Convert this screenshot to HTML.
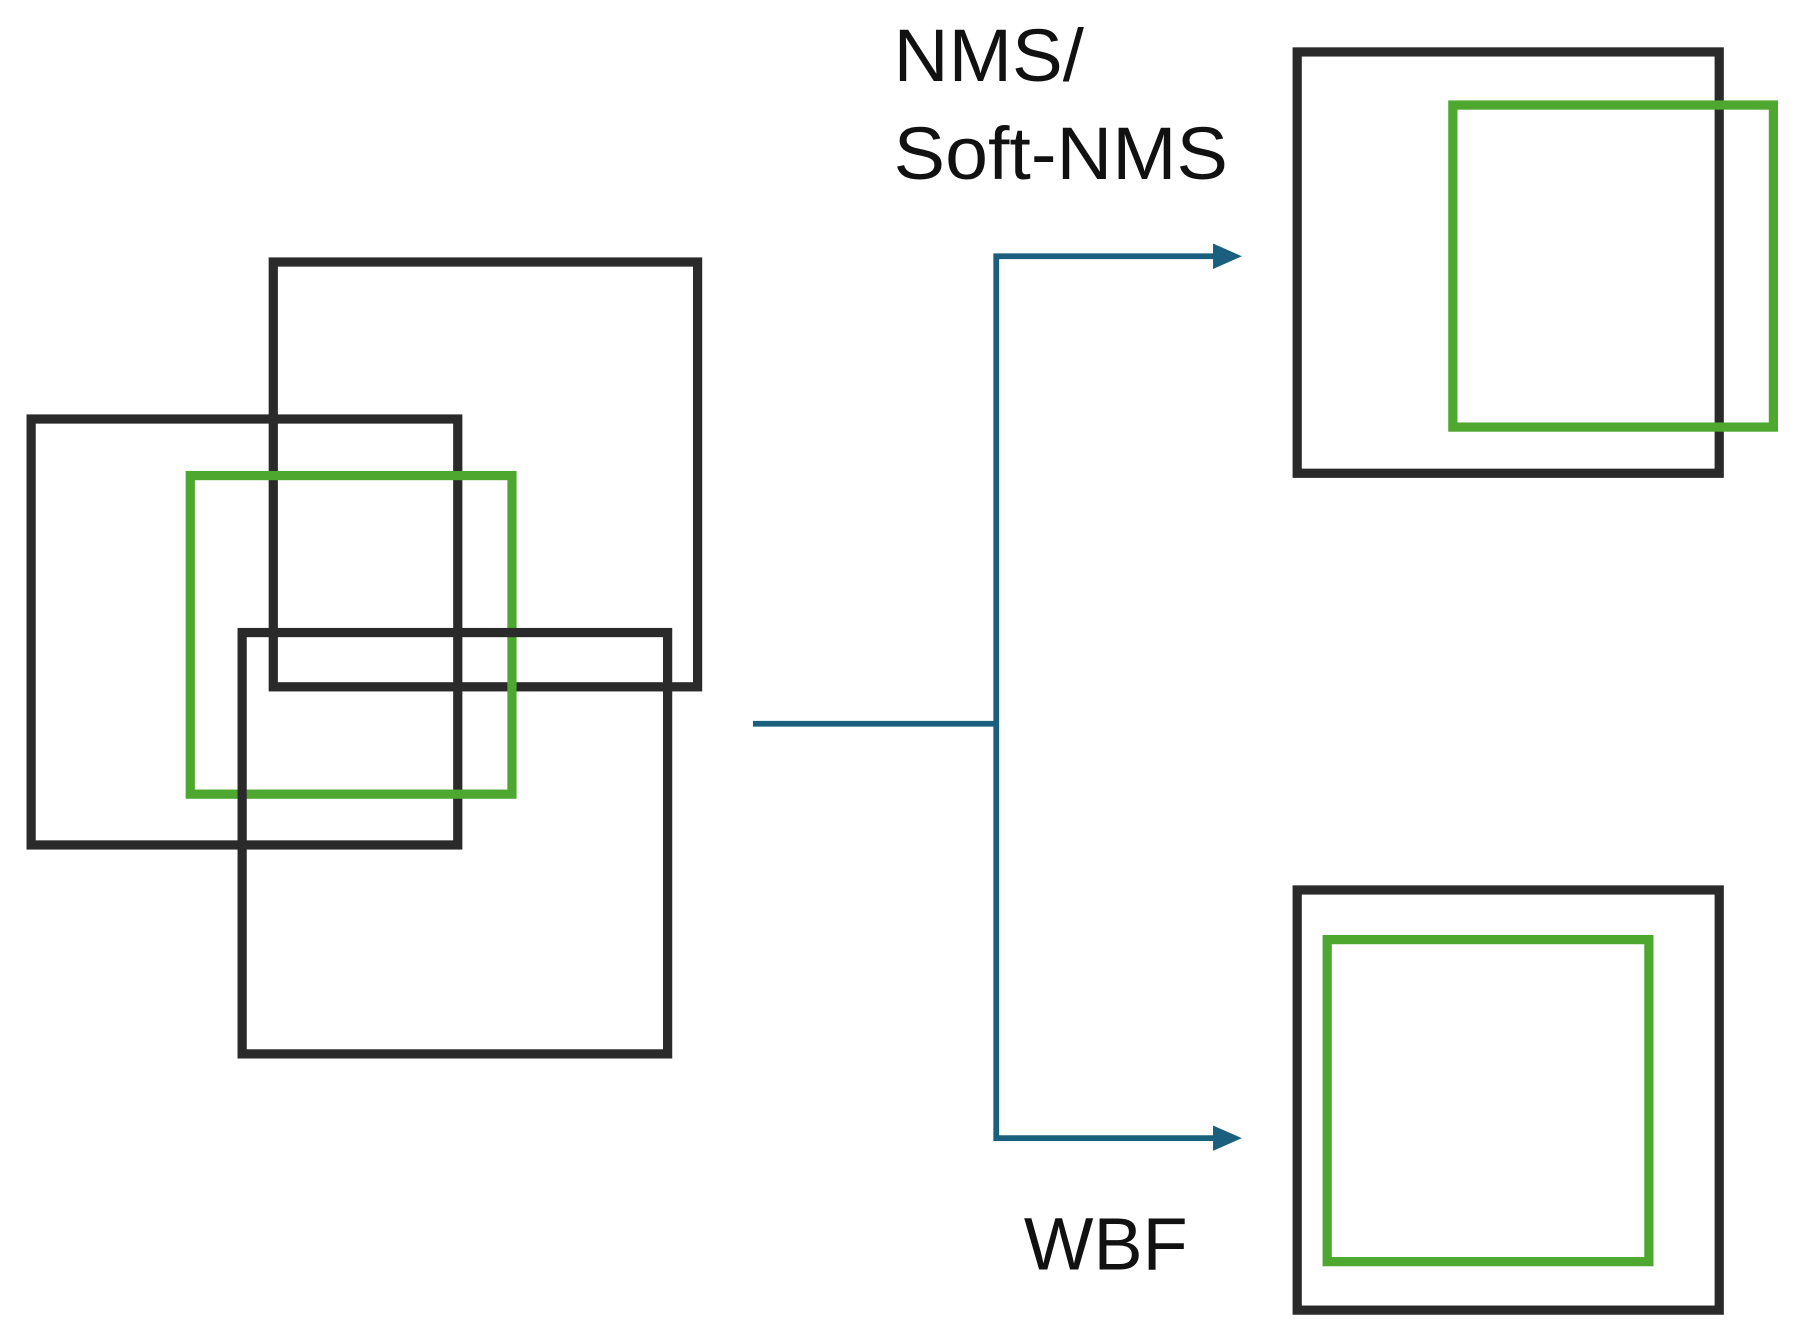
<!DOCTYPE html>
<html><head><meta charset="utf-8"><style>
html,body{margin:0;padding:0;background:#fff;width:1808px;height:1339px;overflow:hidden}
svg{display:block}
</style></head><body>
<svg width="1808" height="1339" viewBox="0 0 1568 1160" preserveAspectRatio="none" xmlns="http://www.w3.org/2000/svg">
<g fill="none" stroke-width="8" stroke-linecap="square">
<rect x="237" y="227" width="368" height="368" stroke="#2a2a2a"/>
<rect x="27" y="363" width="370" height="369" stroke="#2a2a2a"/>
<rect x="165" y="412" width="279" height="276" stroke="#4ea72e"/>
<rect x="210" y="548" width="369" height="365" stroke="#2a2a2a"/>
<rect x="1125" y="45" width="366" height="365" stroke="#2a2a2a"/>
<rect x="1260" y="91" width="278" height="279" stroke="#4ea72e"/>
<rect x="1125" y="771" width="366" height="364" stroke="#2a2a2a"/>
<rect x="1151" y="814" width="279" height="279" stroke="#4ea72e"/>
</g>
<g fill="none" stroke="#1b5f7e" stroke-width="5">
<line x1="653" y1="627" x2="864" y2="627"/>
<polyline points="1055,222 864,222 864,986 1055,986"/>
</g>
<g fill="#1b5f7e">
<polygon points="1052,211 1077,222 1052,233"/>
<polygon points="1052,975 1077,986 1052,997"/>
</g>
<g font-family="Liberation Sans, sans-serif" font-size="64" fill="#111">
<text x="775" y="70" textLength="165" lengthAdjust="spacingAndGlyphs">NMS/</text>
<text x="775" y="155" textLength="290" lengthAdjust="spacingAndGlyphs">Soft-NMS</text>
<text x="888" y="1100" textLength="142" lengthAdjust="spacingAndGlyphs">WBF</text>
</g>
</svg>
</body></html>
